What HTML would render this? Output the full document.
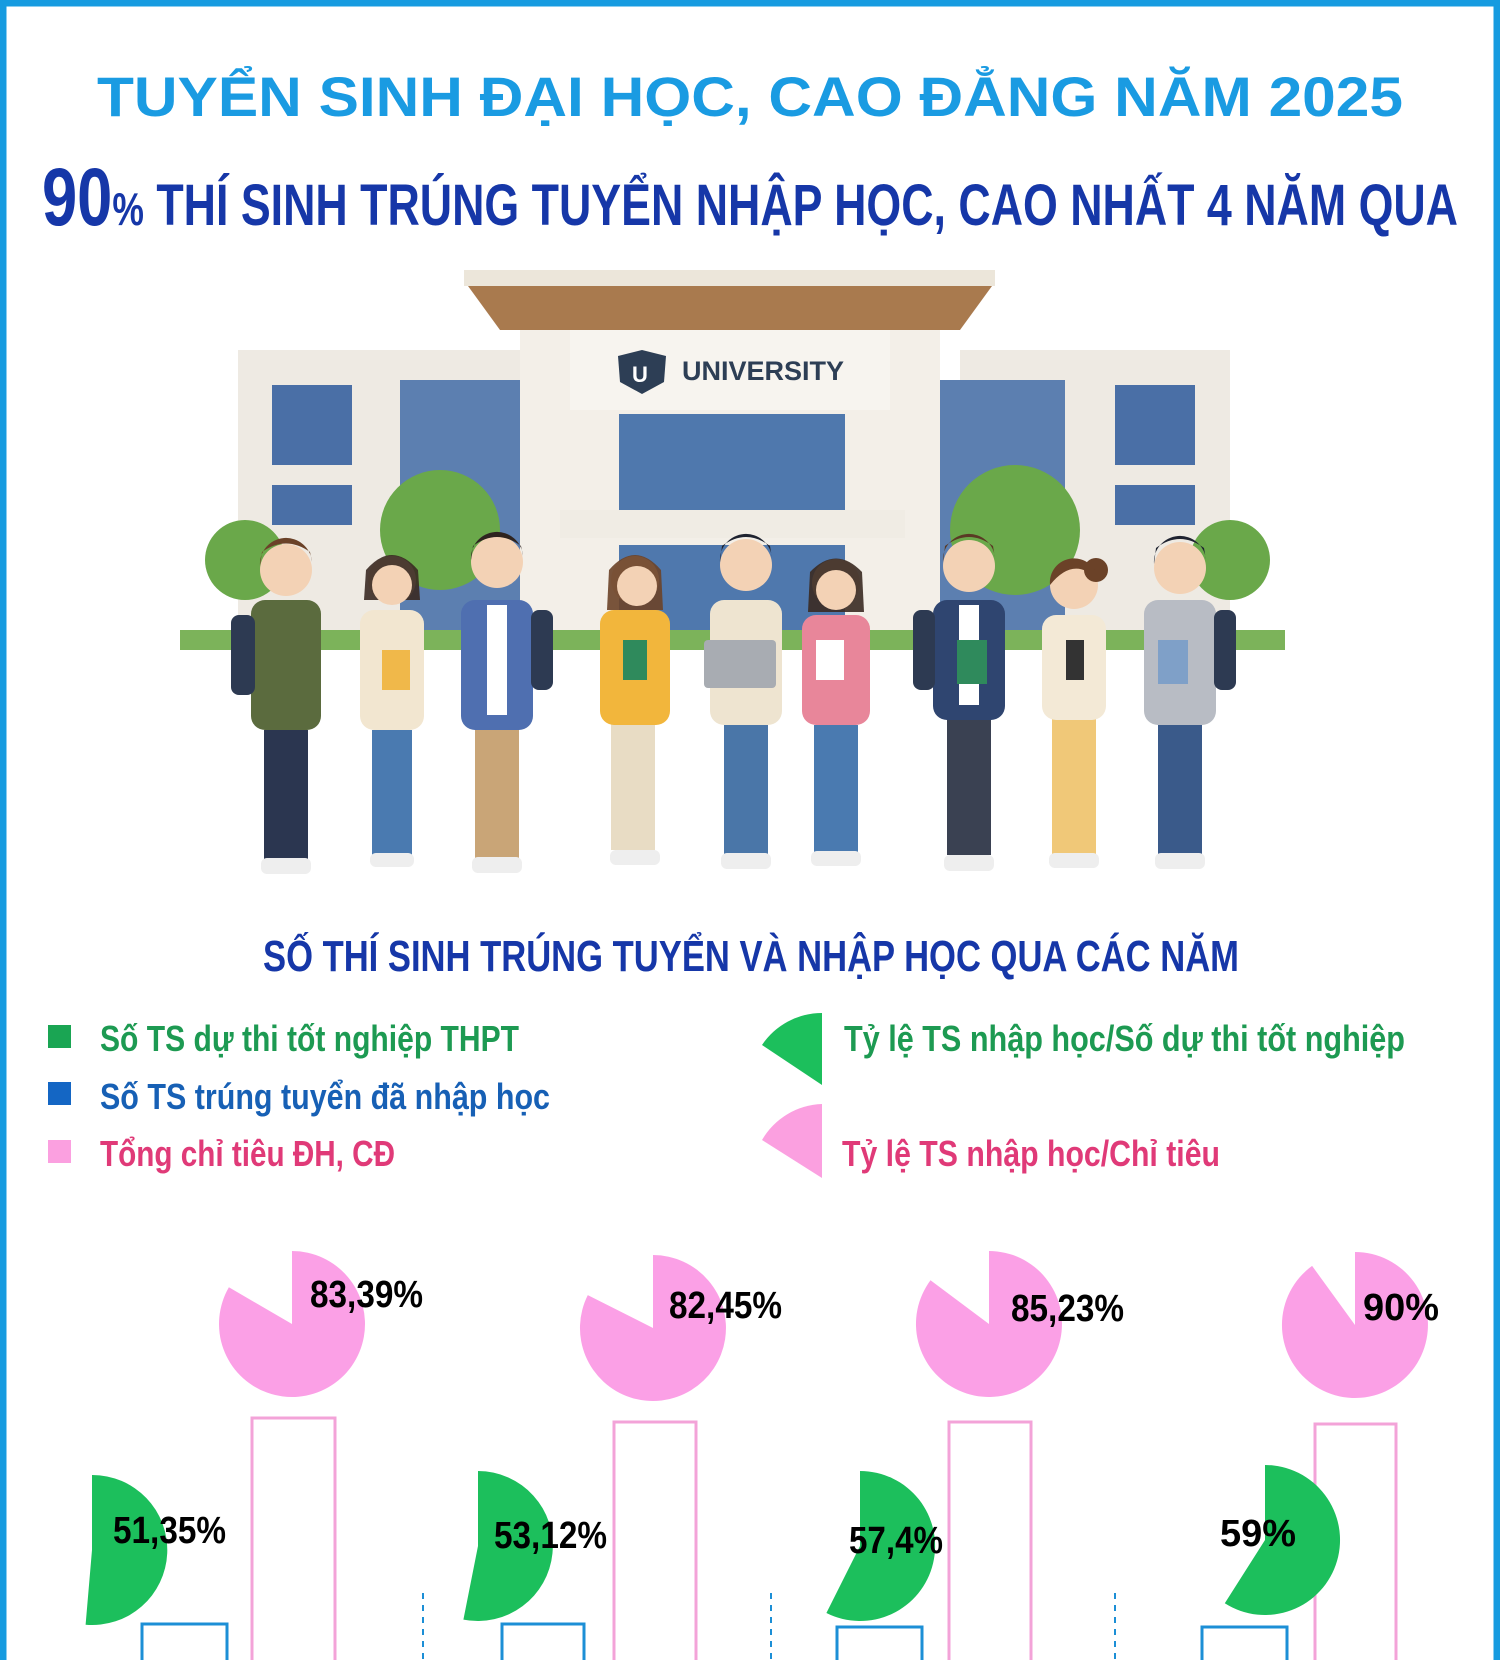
<!DOCTYPE html>
<html><head><meta charset="utf-8"><style>
html,body{margin:0;padding:0;background:#fff;}
svg{display:block;}
</style></head><body>
<svg width="1500" height="1660" viewBox="0 0 1500 1660" xmlns="http://www.w3.org/2000/svg" font-family="'Liberation Sans', sans-serif">
<rect x="0" y="0" width="1500" height="1660" fill="#fff"/>
<rect x="3" y="3" width="1494" height="1680" fill="none" stroke="#169be0" stroke-width="7"/>

<text x="97" y="116" font-size="56" font-weight="bold" fill="#1a9be2" textLength="1306" lengthAdjust="spacingAndGlyphs">TUYỂN SINH ĐẠI HỌC, CAO ĐẲNG NĂM 2025</text>
<text x="42" y="225" font-weight="bold" fill="#1637a8" textLength="1416" lengthAdjust="spacingAndGlyphs"><tspan font-size="82">90</tspan><tspan font-size="46">%</tspan><tspan font-size="58"> THÍ SINH TRÚNG TUYỂN NHẬP HỌC, CAO NHẤT 4 NĂM QUA</tspan></text>

<!-- illustration -->
<g>
<!-- side wings -->
<rect x="238" y="350" width="300" height="290" fill="#eeeae3"/>
<rect x="960" y="350" width="270" height="290" fill="#eeeae3"/>
<rect x="400" y="380" width="160" height="250" fill="#5c7fb0"/>
<rect x="935" y="380" width="130" height="250" fill="#5c7fb0"/>
<rect x="272" y="385" width="80" height="80" fill="#4a6fa6"/>
<rect x="272" y="485" width="80" height="40" fill="#4a6fa6"/>
<rect x="1115" y="385" width="80" height="80" fill="#4a6fa6"/>
<rect x="1115" y="485" width="80" height="40" fill="#4a6fa6"/>
<!-- roof -->
<rect x="464" y="270" width="531" height="16" fill="#ece6da"/>
<polygon points="468,286 992,286 960,330 500,330" fill="#a97a4e"/>
<!-- tower -->
<rect x="520" y="330" width="420" height="300" fill="#f3efe8"/>
<rect x="570" y="330" width="320" height="80" fill="#f7f4ef"/>
<text x="682" y="380" font-size="27" font-weight="bold" fill="#2d3e55">UNIVERSITY</text>
<path d="M618,356 L642,350 L666,356 L664,382 L642,394 L620,382 Z" fill="#2d3e55"/>
<text x="632" y="382" font-size="22" font-weight="bold" fill="#fff">U</text>
<rect x="619" y="414" width="226" height="100" fill="#4f78ad"/>
<rect x="560" y="510" width="345" height="28" fill="#f0ece4"/>
<rect x="619" y="545" width="226" height="90" fill="#4f78ad"/>
<!-- trees -->
<circle cx="440" cy="530" r="60" fill="#6aa84a"/>
<circle cx="245" cy="560" r="40" fill="#6aa84a"/>
<circle cx="1015" cy="530" r="65" fill="#6aa84a"/>
<circle cx="1230" cy="560" r="40" fill="#6aa84a"/>
<rect x="180" y="630" width="1105" height="20" fill="#7cb35a"/>
</g>
<!-- people -->
<g>
<g transform="translate(286,0)"><rect x="-22" y="730" width="44" height="130" fill="#2b3650"/><rect x="-35" y="600" width="70" height="130" rx="14" fill="#5b6b3e"/><circle cx="0" cy="570" r="26" fill="#f3d2b5"/><path d="M-26,566 A26,26 0 0 1 26,562 L24,552 Q0,535 -24,552Z" fill="#6b4228"/><rect x="-25" y="858" width="50" height="16" rx="6" fill="#eee"/><rect x="-55" y="615" width="24" height="80" rx="8" fill="#2d3a52"/></g>
<g transform="translate(392,0)"><rect x="-20" y="730" width="40" height="125" fill="#4a7ab0"/><rect x="-32" y="610" width="64" height="120" rx="14" fill="#f2e6d0"/><circle cx="0" cy="580" r="24" fill="#f3d2b5"/><path d="M-28,600 L-26,570 Q0,540 26,570 L28,600 Z" fill="#3a2a22" opacity="0.9"/><circle cx="0" cy="585" r="20" fill="#f3d2b5"/><rect x="-10" y="650" width="28" height="40" fill="#f0b84a"/><rect x="-22" y="853" width="44" height="14" rx="6" fill="#eee"/></g>
<g transform="translate(497,0)"><rect x="-22" y="730" width="44" height="130" fill="#c9a577"/><rect x="-36" y="600" width="72" height="130" rx="14" fill="#4f6fb0"/><rect x="-10" y="605" width="20" height="110" fill="#fff"/><circle cx="0" cy="562" r="26" fill="#f3d2b5"/><path d="M-26,560 A26,26 0 0 1 26,556 L24,546 Q0,528 -24,546Z" fill="#2e2420"/><rect x="34" y="610" width="22" height="80" rx="8" fill="#2d3a52"/><rect x="-25" y="857" width="50" height="16" rx="6" fill="#eee"/></g>
<g transform="translate(635,0)"><rect x="-24" y="720" width="44" height="130" fill="#e8dcc4"/><rect x="-35" y="610" width="70" height="115" rx="14" fill="#f2b63c"/><rect x="-12" y="640" width="24" height="40" fill="#2f8a5c"/><circle cx="0" cy="580" r="24" fill="#f3d2b5"/><path d="M-28,610 L-26,570 Q0,540 26,570 L28,610 Z" fill="#6b4228" opacity="0.9"/><circle cx="2" cy="586" r="20" fill="#f3d2b5"/><rect x="-25" y="850" width="50" height="15" rx="6" fill="#eee"/></g>
<g transform="translate(746,0)"><rect x="-22" y="725" width="44" height="130" fill="#4a76a8"/><rect x="-36" y="600" width="72" height="125" rx="14" fill="#eee4d0"/><rect x="-42" y="640" width="72" height="48" rx="4" fill="#a8acb2"/><circle cx="0" cy="565" r="26" fill="#f3d2b5"/><path d="M-26,562 A26,26 0 0 1 26,558 L24,546 Q0,528 -24,546Z" fill="#1f2330"/><rect x="-25" y="853" width="50" height="16" rx="6" fill="#eee"/></g>
<g transform="translate(836,0)"><rect x="-22" y="725" width="44" height="128" fill="#4a7ab0"/><rect x="-34" y="615" width="68" height="110" rx="14" fill="#e8869a"/><rect x="-20" y="640" width="28" height="40" fill="#fff"/><circle cx="0" cy="583" r="24" fill="#f3d2b5"/><path d="M-28,612 L-26,572 Q0,545 26,572 L28,612 Z" fill="#3a2a22" opacity="0.9"/><circle cx="0" cy="590" r="20" fill="#f3d2b5"/><rect x="-25" y="851" width="50" height="15" rx="6" fill="#eee"/></g>
<g transform="translate(969,0)"><rect x="-22" y="720" width="44" height="135" fill="#3a4152"/><rect x="-36" y="600" width="72" height="120" rx="14" fill="#2f4570"/><rect x="-10" y="605" width="20" height="100" fill="#fff"/><rect x="-12" y="640" width="30" height="44" fill="#2f8a5c"/><circle cx="0" cy="566" r="26" fill="#f3d2b5"/><path d="M-26,562 A26,26 0 0 1 26,558 L24,546 Q0,528 -24,546Z" fill="#5a3a24"/><rect x="-56" y="610" width="22" height="80" rx="8" fill="#2d3a52"/><rect x="-25" y="855" width="50" height="16" rx="6" fill="#eee"/></g>
<g transform="translate(1074,0)"><rect x="-22" y="715" width="44" height="140" fill="#f0c878"/><rect x="-32" y="615" width="64" height="105" rx="14" fill="#f3e9d6"/><rect x="-8" y="640" width="18" height="40" fill="#333"/><circle cx="0" cy="585" r="24" fill="#f3d2b5"/><circle cx="22" cy="570" r="12" fill="#6b4228"/><path d="M-24,585 A24,24 0 0 1 24,580 Q0,555 -24,585Z" fill="#6b4228"/><rect x="-25" y="853" width="50" height="15" rx="6" fill="#eee"/></g>
<g transform="translate(1180,0)"><rect x="-22" y="720" width="44" height="135" fill="#3a5a8a"/><rect x="-36" y="600" width="72" height="125" rx="14" fill="#b8bcc4"/><rect x="-22" y="640" width="30" height="44" fill="#7fa0c8"/><circle cx="0" cy="568" r="26" fill="#f3d2b5"/><path d="M-26,564 A26,26 0 0 1 26,560 L24,548 Q0,530 -24,548Z" fill="#1f2330"/><rect x="34" y="610" width="22" height="80" rx="8" fill="#2d3a52"/><rect x="-25" y="853" width="50" height="16" rx="6" fill="#eee"/></g>
</g>

<text x="263" y="971" font-size="44" font-weight="bold" fill="#1637a8" textLength="976" lengthAdjust="spacingAndGlyphs">SỐ THÍ SINH TRÚNG TUYỂN VÀ NHẬP HỌC QUA CÁC NĂM</text>

<!-- legend -->
<rect x="48" y="1025" width="23" height="23" fill="#1aa553"/>
<rect x="48" y="1082" width="23" height="23" fill="#1466c4"/>
<rect x="48" y="1140" width="23" height="23" fill="#fba0e0"/>
<text x="100" y="1051" font-size="36" font-weight="bold" fill="#1d9a52" textLength="419" lengthAdjust="spacingAndGlyphs">Số TS dự thi tốt nghiệp THPT</text>
<text x="100" y="1109" font-size="36" font-weight="bold" fill="#1760b5" textLength="450" lengthAdjust="spacingAndGlyphs">Số TS trúng tuyển đã nhập học</text>
<text x="100" y="1166" font-size="36" font-weight="bold" fill="#e03a78" textLength="295" lengthAdjust="spacingAndGlyphs">Tổng chỉ tiêu ĐH, CĐ</text>
<path d="M822,1049 L822,1013 A72,72 0 0 0 762,1045 L822,1085 Z" fill="#1cbf5c"/>
<path d="M822,1142 L822,1104 A72,72 0 0 0 762,1140 L822,1178 Z" fill="#fba0e0"/>
<text x="844" y="1051" font-size="36" font-weight="bold" fill="#1d9a52" textLength="561" lengthAdjust="spacingAndGlyphs">Tỷ lệ TS nhập học/Số dự thi tốt nghiệp</text>
<text x="842" y="1166" font-size="36" font-weight="bold" fill="#e03a78" textLength="378" lengthAdjust="spacingAndGlyphs">Tỷ lệ TS nhập học/Chỉ tiêu</text>

<!-- bars -->
<g fill="none" stroke="#f3a3d8" stroke-width="3">
<rect x="252" y="1418" width="83" height="260"/>
<rect x="614" y="1422" width="82" height="260"/>
<rect x="949" y="1422" width="82" height="260"/>
<rect x="1315" y="1424" width="81" height="260"/>
</g>
<g fill="none" stroke="#1c8fd6" stroke-width="3">
<rect x="142" y="1624" width="85" height="60"/>
<rect x="502" y="1624" width="82" height="60"/>
<rect x="837" y="1627" width="85" height="60"/>
<rect x="1202" y="1627" width="85" height="60"/>
</g>
<g stroke="#1c8fd6" stroke-width="2" stroke-dasharray="6,6">
<line x1="423" y1="1593" x2="423" y2="1660"/>
<line x1="771" y1="1593" x2="771" y2="1660"/>
<line x1="1115" y1="1593" x2="1115" y2="1660"/>
</g>

<!-- pink pies -->
<g fill="#fba0e6">
<path d="M292,1324 L292,1251 A73,73 0 1 1 228.9,1287.3 Z"/>
<path d="M653,1328 L653,1255 A73,73 0 1 1 587.8,1295.1 Z"/>
<path d="M989,1324 L989,1251 A73,73 0 1 1 930.5,1280.3 Z"/>
<path d="M1355,1325 L1355,1252 A73,73 0 1 1 1312.1,1265.9 Z"/>
</g>
<!-- green pies -->
<g fill="#1cbf5c">
<path d="M92,1550 L92,1475 A75,75 0 1 1 85.6,1624.7 Z"/>
<path d="M478,1546 L478,1471 A75,75 0 1 1 463.4,1619.6 Z"/>
<path d="M860,1546 L860,1471 A75,75 0 1 1 826.4,1613 Z"/>
<path d="M1265,1540 L1265,1465 A75,75 0 1 1 1224.8,1603.3 Z"/>
</g>

<g font-size="38" font-weight="bold" fill="#000">
<text x="310" y="1307" textLength="113" lengthAdjust="spacingAndGlyphs">83,39%</text>
<text x="669" y="1318" textLength="113" lengthAdjust="spacingAndGlyphs">82,45%</text>
<text x="1011" y="1321" textLength="113" lengthAdjust="spacingAndGlyphs">85,23%</text>
<text x="1363" y="1320" textLength="76" lengthAdjust="spacingAndGlyphs">90%</text>
<text x="113" y="1543" textLength="113" lengthAdjust="spacingAndGlyphs">51,35%</text>
<text x="494" y="1548" textLength="113" lengthAdjust="spacingAndGlyphs">53,12%</text>
<text x="849" y="1553" textLength="94" lengthAdjust="spacingAndGlyphs">57,4%</text>
<text x="1220" y="1546" textLength="76" lengthAdjust="spacingAndGlyphs">59%</text>
</g>
</svg>
</body></html>
